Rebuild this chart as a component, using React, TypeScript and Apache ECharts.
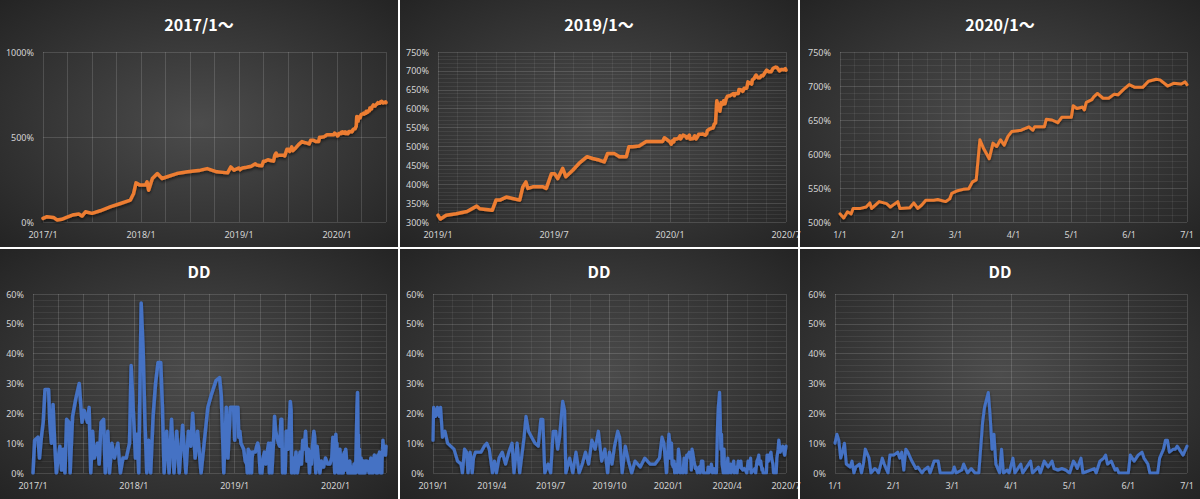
import React, { useEffect, useRef } from "react";
import * as echarts from "echarts";

// ---------- data ----------
const EQUITY_2017_2018: [string, number][] = [
  ["2017-01-01", 21], ["2017-01-16", 31], ["2017-02-09", 27], ["2017-02-21", 12], ["2017-03-10", 16],
  ["2017-03-28", 27], ["2017-04-19", 41], ["2017-05-13", 47], ["2017-05-25", 35], ["2017-06-07", 60],
  ["2017-07-01", 51], ["2017-08-01", 66], ["2017-09-10", 90], ["2017-10-16", 109], ["2017-11-22", 129],
  ["2017-12-04", 168], ["2017-12-13", 230], ["2017-12-28", 217], ["2018-01-18", 217], ["2018-01-24", 236],
  ["2018-01-30", 187], ["2018-02-12", 256], ["2018-03-01", 285], ["2018-03-19", 256], ["2018-04-07", 266],
  ["2018-05-13", 285], ["2018-06-22", 295], ["2018-08-10", 305], ["2018-09-04", 314], ["2018-10-10", 295],
  ["2018-11-19", 289], ["2018-12-01", 324], ["2018-12-13", 305],
];

const EQUITY_2019: [string, number][] = [
  ["2019-01-01", 318], ["2019-01-05", 308], ["2019-01-14", 318], ["2019-01-30", 322], ["2019-02-15", 328],
  ["2019-03-01", 342], ["2019-03-06", 335], ["2019-03-16", 333], ["2019-03-26", 331], ["2019-04-01", 358],
  ["2019-04-07", 358], ["2019-04-17", 366], ["2019-04-27", 362], ["2019-05-08", 358], ["2019-05-13", 393],
  ["2019-05-18", 406], ["2019-05-21", 389], ["2019-05-29", 393], ["2019-06-14", 393], ["2019-06-19", 389],
  ["2019-06-27", 428], ["2019-07-02", 428], ["2019-07-07", 415], ["2019-07-15", 442], ["2019-07-20", 420],
  ["2019-07-31", 437], ["2019-08-10", 455], ["2019-08-23", 473], ["2019-09-01", 468], ["2019-09-11", 464],
  ["2019-09-19", 459], ["2019-09-24", 481], ["2019-10-05", 481], ["2019-10-13", 473], ["2019-10-24", 473],
  ["2019-10-28", 499], ["2019-11-03", 499], ["2019-11-13", 501], ["2019-11-24", 513], ["2019-12-05", 513],
  ["2019-12-20", 513], ["2019-12-23", 523],
];

const EQUITY_2020: [string, number][] = [
  ["2020-01-01", 512], ["2020-01-03", 506], ["2020-01-05", 515], ["2020-01-07", 512], ["2020-01-08", 520],
  ["2020-01-12", 520], ["2020-01-15", 522], ["2020-01-17", 528], ["2020-01-18", 520], ["2020-01-22", 530],
  ["2020-01-26", 527], ["2020-01-28", 522], ["2020-02-01", 530], ["2020-02-02", 520], ["2020-02-07", 521],
  ["2020-02-09", 528], ["2020-02-11", 520], ["2020-02-13", 525], ["2020-02-15", 532], ["2020-02-19", 532],
  ["2020-02-21", 533], ["2020-02-25", 530], ["2020-02-27", 534], ["2020-02-28", 542], ["2020-03-02", 546],
  ["2020-03-05", 548], ["2020-03-08", 549], ["2020-03-10", 559], ["2020-03-12", 562], ["2020-03-14", 621],
  ["2020-03-16", 608], ["2020-03-19", 593], ["2020-03-21", 616], ["2020-03-23", 611], ["2020-03-25", 621],
  ["2020-03-27", 613], ["2020-03-29", 626], ["2020-03-31", 633], ["2020-04-05", 635], ["2020-04-09", 640],
  ["2020-04-11", 635], ["2020-04-12", 640], ["2020-04-17", 640], ["2020-04-18", 651], ["2020-04-21", 650],
  ["2020-04-24", 646], ["2020-04-26", 654], ["2020-04-30", 654], ["2020-05-01", 654], ["2020-05-02", 671],
  ["2020-05-04", 667], ["2020-05-07", 669], ["2020-05-08", 665], ["2020-05-09", 676], ["2020-05-12", 680],
  ["2020-05-13", 684], ["2020-05-15", 689], ["2020-05-18", 682], ["2020-05-21", 682], ["2020-05-24", 688],
  ["2020-05-26", 687], ["2020-05-29", 695], ["2020-06-01", 702], ["2020-06-04", 698], ["2020-06-08", 698],
  ["2020-06-11", 707], ["2020-06-15", 710], ["2020-06-17", 709], ["2020-06-21", 700], ["2020-06-24", 704],
  ["2020-06-28", 703], ["2020-06-30", 706], ["2020-07-01", 702],
];

const DD_2017_2018: [string, number][] = [
  ["2017-01-01", 0], ["2017-01-07", 11], ["2017-01-19", 12], ["2017-01-25", 5], ["2017-02-01", 12],
  ["2017-02-07", 17], ["2017-02-13", 28], ["2017-02-25", 28], ["2017-03-01", 17], ["2017-03-07", 10],
  ["2017-03-13", 23], ["2017-03-19", 10], ["2017-03-25", 0], ["2017-04-01", 5], ["2017-04-07", 9],
  ["2017-04-13", 1], ["2017-04-19", 8], ["2017-04-25", 0], ["2017-05-01", 18], ["2017-05-10", 17],
  ["2017-05-14", 0], ["2017-05-23", 19], ["2017-06-04", 25], ["2017-06-16", 30], ["2017-06-26", 17],
  ["2017-07-04", 21], ["2017-07-16", 17], ["2017-07-22", 22], ["2017-07-28", 0], ["2017-08-04", 14],
  ["2017-08-10", 5], ["2017-08-22", 10], ["2017-08-28", 3], ["2017-09-04", 17], ["2017-09-13", 18],
  ["2017-09-19", 0], ["2017-09-28", 14], ["2017-10-04", 0], ["2017-10-13", 10], ["2017-10-22", 5],
  ["2017-11-04", 10], ["2017-11-13", 0], ["2017-11-22", 5], ["2017-12-04", 5], ["2017-12-16", 10],
  ["2017-12-22", 36], ["2018-01-01", 17], ["2018-01-07", 5], ["2018-01-13", 13], ["2018-01-19", 0],
  ["2018-01-28", 57], ["2018-02-04", 41], ["2018-02-10", 17], ["2018-02-16", 0], ["2018-02-22", 11],
  ["2018-03-01", 0], ["2018-03-10", 19], ["2018-03-19", 30], ["2018-03-28", 37], ["2018-04-07", 37],
  ["2018-04-13", 22], ["2018-04-19", 0], ["2018-04-28", 14], ["2018-05-07", 0], ["2018-05-16", 18],
  ["2018-05-25", 0], ["2018-06-04", 14], ["2018-06-13", 0], ["2018-06-25", 16], ["2018-07-07", 0],
  ["2018-07-16", 14], ["2018-07-25", 9], ["2018-08-01", 20], ["2018-08-10", 5], ["2018-08-19", 14],
  ["2018-09-01", 0], ["2018-09-13", 11], ["2018-09-25", 22], ["2018-10-07", 26], ["2018-10-25", 31],
  ["2018-11-07", 32], ["2018-11-13", 26], ["2018-11-22", 0], ["2018-12-01", 22], ["2018-12-07", 5],
  ["2018-12-16", 22], ["2018-12-28", 22],
];

const DD_2019: [string, number][] = [
  ["2019-01-01", 11], ["2019-01-02", 22], ["2019-01-05", 19], ["2019-01-08", 22], ["2019-01-11", 19],
  ["2019-01-13", 22], ["2019-01-16", 12], ["2019-01-20", 14], ["2019-01-24", 10], ["2019-01-29", 9],
  ["2019-02-03", 8], ["2019-02-08", 4], ["2019-02-13", 3], ["2019-02-15", 0], ["2019-02-18", 8],
  ["2019-02-21", 7], ["2019-02-23", 0], ["2019-02-26", 7], ["2019-03-01", 0], ["2019-03-03", 5],
  ["2019-03-06", 7], ["2019-03-10", 7], ["2019-03-15", 7], ["2019-03-20", 9], ["2019-03-24", 10],
  ["2019-03-28", 8], ["2019-04-02", 0], ["2019-04-05", 4], ["2019-04-08", 0], ["2019-04-12", 5],
  ["2019-04-17", 7], ["2019-04-22", 3], ["2019-04-27", 7], ["2019-05-02", 10], ["2019-05-05", 0],
  ["2019-05-10", 10], ["2019-05-14", 0], ["2019-05-21", 12], ["2019-05-24", 19], ["2019-05-28", 14],
  ["2019-06-02", 12], ["2019-06-07", 10], ["2019-06-12", 9], ["2019-06-16", 18], ["2019-06-19", 18],
  ["2019-06-22", 0], ["2019-06-27", 3], ["2019-07-01", 0], ["2019-07-05", 14], ["2019-07-09", 14],
  ["2019-07-12", 8], ["2019-07-15", 12], ["2019-07-20", 24], ["2019-07-23", 21], ["2019-07-25", 0],
  ["2019-07-31", 5], ["2019-08-05", 0], ["2019-08-10", 7], ["2019-08-15", 0], ["2019-08-20", 3],
  ["2019-08-25", 7], ["2019-08-30", 3], ["2019-09-04", 11], ["2019-09-09", 8], ["2019-09-14", 14],
  ["2019-09-19", 4], ["2019-09-24", 8], ["2019-09-28", 0], ["2019-10-01", 7], ["2019-10-05", 3],
  ["2019-10-09", 9], ["2019-10-14", 14], ["2019-10-17", 12], ["2019-10-21", 0], ["2019-10-26", 9],
  ["2019-10-31", 4], ["2019-11-05", 0], ["2019-11-10", 4], ["2019-11-18", 2], ["2019-11-25", 5],
  ["2019-12-03", 3], ["2019-12-11", 3], ["2019-12-18", 5], ["2019-12-22", 12], ["2019-12-25", 10],
  ["2019-12-29", 0],
];

const DD_2020: [string, number][] = [
  ["2020-01-01", 10], ["2020-01-02", 13], ["2020-01-03", 11], ["2020-01-04", 5], ["2020-01-05", 7],
  ["2020-01-06", 10], ["2020-01-07", 3], ["2020-01-09", 2], ["2020-01-10", 4], ["2020-01-11", 0],
  ["2020-01-12", 2], ["2020-01-14", 3], ["2020-01-15", 0], ["2020-01-16", 3], ["2020-01-17", 8],
  ["2020-01-19", 5], ["2020-01-20", 0], ["2020-01-22", 1.5], ["2020-01-23", 1], ["2020-01-24", 0],
  ["2020-01-26", 5], ["2020-01-27", 3], ["2020-01-29", 0], ["2020-01-30", 6], ["2020-02-01", 6],
  ["2020-02-03", 7], ["2020-02-04", 5], ["2020-02-05", 7], ["2020-02-06", 1], ["2020-02-07", 8],
  ["2020-02-08", 7], ["2020-02-10", 4], ["2020-02-12", 1.5], ["2020-02-13", 2], ["2020-02-15", 0],
  ["2020-02-16", 1], ["2020-02-18", 2], ["2020-02-19", 0], ["2020-02-21", 4], ["2020-02-23", 4],
  ["2020-02-24", 0], ["2020-03-01", 0], ["2020-03-02", 2], ["2020-03-03", 0], ["2020-03-06", 1],
  ["2020-03-07", 3], ["2020-03-09", 0], ["2020-03-11", 1.5], ["2020-03-13", 0], ["2020-03-15", 0],
  ["2020-03-17", 17], ["2020-03-18", 22], ["2020-03-20", 27], ["2020-03-21", 19], ["2020-03-22", 8],
  ["2020-03-23", 13], ["2020-03-24", 3], ["2020-03-26", 0], ["2020-03-27", 8], ["2020-03-28", 0],
  ["2020-03-30", 1], ["2020-03-31", 0], ["2020-04-02", 5], ["2020-04-03", 0], ["2020-04-06", 3],
  ["2020-04-07", 0], ["2020-04-11", 4], ["2020-04-12", 0], ["2020-04-15", 2], ["2020-04-16", 0],
  ["2020-04-18", 4], ["2020-04-20", 2], ["2020-04-21", 3], ["2020-04-22", 4], ["2020-04-23", 1.5],
  ["2020-04-25", 1], ["2020-04-27", 1.5], ["2020-04-29", 1], ["2020-05-01", 0], ["2020-05-03", 4],
  ["2020-05-04", 3], ["2020-05-05", 1.5], ["2020-05-07", 5], ["2020-05-08", 0], ["2020-05-14", 1.5],
  ["2020-05-15", 0], ["2020-05-17", 4], ["2020-05-19", 5], ["2020-05-20", 6], ["2020-05-21", 3],
  ["2020-05-23", 4], ["2020-05-25", 1], ["2020-05-26", 1.5], ["2020-05-27", 0], ["2020-06-01", 0],
  ["2020-06-02", 6], ["2020-06-04", 4], ["2020-06-06", 6], ["2020-06-08", 7], ["2020-06-09", 5],
  ["2020-06-11", 3], ["2020-06-12", 0], ["2020-06-16", 0], ["2020-06-17", 5], ["2020-06-19", 8],
  ["2020-06-20", 11], ["2020-06-21", 11], ["2020-06-22", 7], ["2020-06-24", 8], ["2020-06-25", 8],
  ["2020-06-26", 9], ["2020-06-27", 8], ["2020-06-29", 6], ["2020-07-01", 9],
];

const TITLES = ["2017/1～", "2019/1～", "2020/1～", "DD", "DD", "DD"];

// ---------- helpers ----------
const W = 1200;
const H = 499;
const ORANGE = "#ED7D31";
const BLUE = "#4472C4";
const LABEL_COLOR = "#d4d4d4";
const MAJOR = "rgba(255,255,255,0.14)";
const MINOR = "rgba(255,255,255,0.065)";

function monthPos(d: string): number {
  const [y, m, day] = d.split("-").map(Number);
  const dim = new Date(y, m, 0).getDate();
  return (y - 2017) * 12 + (m - 1) + (day - 1) / dim;
}

const EQUITY = [...EQUITY_2017_2018, ...EQUITY_2019, ...EQUITY_2020];
const DD = [...DD_2017_2018, ...DD_2019, ...DD_2020];

const yearLabel = (v: number) => {
  const r = Math.round(v);
  return r % 12 === 0 ? `${2017 + r / 12}/1` : "";
};
const ymLabel = (v: number) => {
  const r = Math.round(v);
  return `${2017 + Math.floor(r / 12)}/${(r % 12) + 1}`;
};
const mdLabel = (v: number) => `${Math.round(v) - 36 + 1}/1`;
const pct = (v: number) => `${Math.round(v)}%`;

type Panel = {
  grid: { left: number; top: number; width: number; height: number };
  box: { x: number; y: number; w: number; h: number };
  titleY: number;
  x: { min: number; max: number; interval: number; minor: number; fmt: (v: number) => string };
  y: { min: number; max: number; interval: number; minor: number };
  series: [string, number][];
  color: string;
  lw: number;
};

const panels: Panel[] = [
  {
    grid: { left: 43, top: 52, width: 343, height: 170 },
    box: { x: 0, y: 0, w: 398, h: 247 },
    titleY: 24,
    x: { min: 0, max: 42, interval: 3, minor: 0, fmt: yearLabel },
    y: { min: 0, max: 1000, interval: 500, minor: 0 },
    series: EQUITY,
    color: ORANGE,
    lw: 3.5,
  },
  {
    grid: { left: 438, top: 52, width: 348, height: 170 },
    box: { x: 400, y: 0, w: 398, h: 247 },
    titleY: 24,
    x: { min: 24, max: 42, interval: 6, minor: 6, fmt: ymLabel },
    y: { min: 300, max: 750, interval: 50, minor: 5 },
    series: EQUITY,
    color: ORANGE,
    lw: 3.5,
  },
  {
    grid: { left: 840, top: 52, width: 347, height: 170 },
    box: { x: 800, y: 0, w: 400, h: 247 },
    titleY: 24,
    x: { min: 36, max: 42, interval: 1, minor: 4, fmt: mdLabel },
    y: { min: 500, max: 750, interval: 50, minor: 5 },
    series: EQUITY,
    color: ORANGE,
    lw: 3,
  },
  {
    grid: { left: 33, top: 294, width: 353, height: 179 },
    box: { x: 0, y: 249, w: 398, h: 250 },
    titleY: 271,
    x: { min: 0, max: 42, interval: 3, minor: 0, fmt: yearLabel },
    y: { min: 0, max: 60, interval: 10, minor: 5 },
    series: DD,
    color: BLUE,
    lw: 3.5,
  },
  {
    grid: { left: 433, top: 294, width: 353, height: 179 },
    box: { x: 400, y: 249, w: 398, h: 250 },
    titleY: 271,
    x: { min: 24, max: 42, interval: 3, minor: 3, fmt: ymLabel },
    y: { min: 0, max: 60, interval: 10, minor: 5 },
    series: DD,
    color: BLUE,
    lw: 3.2,
  },
  {
    grid: { left: 835, top: 294, width: 352, height: 179 },
    box: { x: 800, y: 249, w: 400, h: 250 },
    titleY: 271,
    x: { min: 36, max: 42, interval: 1, minor: 0, fmt: mdLabel },
    y: { min: 0, max: 60, interval: 10, minor: 5 },
    series: DD,
    color: BLUE,
    lw: 3,
  },
];

function buildOption(): echarts.EChartsOption {
  const labelFont = { color: LABEL_COLOR, fontSize: 9, fontFamily: "Noto Sans" };
  const graphics: any[] = [];
  panels.forEach((p, i) => {
    graphics.push({
      type: "rect",
      z: -10,
      silent: true,
      shape: { x: p.box.x, y: p.box.y, width: p.box.w, height: p.box.h },
      style: {
        fill: new echarts.graphic.RadialGradient(0.5, 0.5, 0.72, [
          { offset: 0, color: "#4c4c4c" },
          { offset: 1, color: "#232323" },
        ]),
      },
    });
    graphics.push({
      type: "text",
      z: 50,
      silent: true,
      style: {
        text: TITLES[i],
        x: p.box.x + p.box.w / 2,
        y: p.titleY,
        textAlign: "center",
        textVerticalAlign: "middle",
        fill: "#ffffff",
        font: 'bold 16px "Noto Sans CJK JP", "Noto Sans", sans-serif',
      },
    });
  });
  // white separators
  graphics.push(
    { type: "rect", z: 100, silent: true, shape: { x: 398, y: 0, width: 2, height: H }, style: { fill: "#ffffff" } },
    { type: "rect", z: 100, silent: true, shape: { x: 798, y: 0, width: 2, height: H }, style: { fill: "#ffffff" } },
    { type: "rect", z: 100, silent: true, shape: { x: 0, y: 247, width: W, height: 2 }, style: { fill: "#ffffff" } }
  );

  return {
    animation: false,
    backgroundColor: "#2a2a2a",
    graphic: { elements: graphics },
    grid: panels.map((p) => ({ ...p.grid, containLabel: false })),
    xAxis: panels.map((p, i) => ({
      type: "value",
      gridIndex: i,
      min: p.x.min,
      max: p.x.max,
      interval: p.x.interval,
      axisLine: { show: false },
      axisTick: { show: false },
      axisLabel: { ...labelFont, margin: 8, formatter: p.x.fmt, showMinLabel: true, showMaxLabel: true },
      splitLine: { show: true, lineStyle: { color: MAJOR, width: 1 } },
      minorTick: { show: false, splitNumber: p.x.minor || 5 },
      minorSplitLine: { show: p.x.minor > 0, lineStyle: { color: MINOR, width: 1 } },
    })),
    yAxis: panels.map((p, i) => ({
      type: "value",
      gridIndex: i,
      min: p.y.min,
      max: p.y.max,
      interval: p.y.interval,
      axisLine: { show: false },
      axisTick: { show: false },
      axisLabel: { ...labelFont, margin: 9, formatter: pct },
      splitLine: { show: true, lineStyle: { color: MAJOR, width: 1 } },
      minorTick: { show: false, splitNumber: p.y.minor || 5 },
      minorSplitLine: { show: p.y.minor > 0, lineStyle: { color: MINOR, width: 1 } },
    })),
    series: panels.map((p, i) => ({
      type: "line",
      xAxisIndex: i,
      yAxisIndex: i,
      showSymbol: false,
      symbol: "none",
      clip: true,
      z: 5,
      lineStyle: {
        color: p.color,
        width: p.lw,
        join: "round",
        cap: "round",
        shadowColor: "rgba(0,0,0,0.55)",
        shadowBlur: 3,
        shadowOffsetY: 2,
      },
      data: p.series
        .map(([d, v]) => [monthPos(d), v] as [number, number])
        .filter(([m]) => m >= p.x.min && m <= p.x.max),
    })),
  };
}

export default function App() {
  const ref = useRef<HTMLDivElement>(null);
  useEffect(() => {
    document.body.style.margin = "0";
    if (!ref.current) return;
    const chart = echarts.init(ref.current, null, { renderer: "svg", width: W, height: H });
    chart.setOption(buildOption());
    return () => chart.dispose();
  }, []);
  return <div ref={ref} style={{ width: W, height: H, position: "absolute", left: 0, top: 0 }} />;
}
